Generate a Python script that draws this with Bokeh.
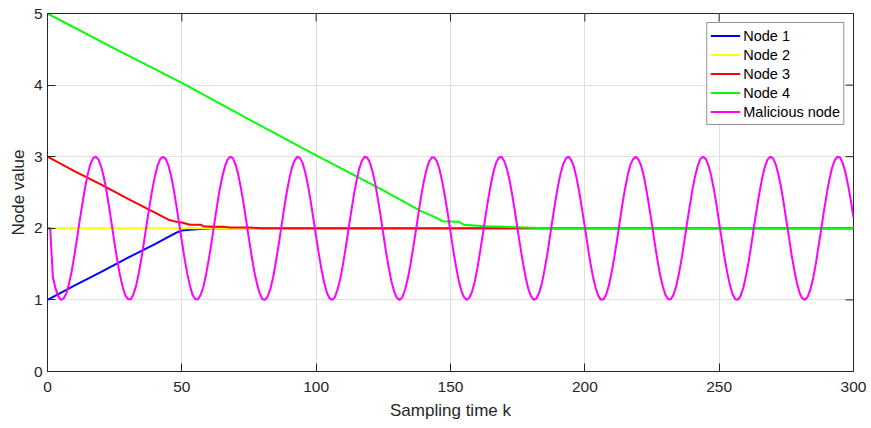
import math
from bokeh.plotting import figure
from bokeh.models import Range1d, FixedTicker, Legend, LegendItem
from bokeh.embed import file_html
from bokeh.resources import INLINE

# ---------------- data ----------------
x_ticks = [0, 50, 100, 150, 200, 250, 300]
y_ticks = [0, 1, 2, 3, 4, 5]

node1_k = [0, 10, 20, 30, 40, 45, 48, 50, 53, 57, 62, 300]
node1_v = [1.00, 1.20, 1.39, 1.59, 1.78, 1.88, 1.94, 1.97, 1.98, 1.99, 2.00, 2.00]

node2_k = [0, 300]
node2_v = [2.00, 2.00]

node3_k = [0, 10, 20, 30, 40, 45, 48, 50, 51, 53, 57, 58, 62, 66, 68, 75, 80, 300]
node3_v = [3.00, 2.80, 2.61, 2.41, 2.22, 2.12, 2.09, 2.08, 2.07, 2.05, 2.05, 2.03,
           2.02, 2.02, 2.01, 2.01, 2.00, 2.00]

node4_k = [0, 25, 50, 75, 100, 125, 139, 144, 147, 153, 155, 163, 170, 175, 185, 300]
node4_v = [5.00, 4.51, 4.03, 3.52, 3.02, 2.53, 2.24, 2.16, 2.10, 2.09, 2.05, 2.03,
           2.02, 2.015, 2.00, 2.00]

malicious_k = list(range(0, 301))
malicious_v = [
    2.00, 2.00,
    1.32, 1.16, 1.05, 1.00, 1.02, 1.09, 1.22, 1.40, 1.62, 1.86, 2.11, 2.35, 2.57, 2.76, 2.90, 2.98, 3.00, 2.96, 2.86, 2.71, 2.51, 2.28,
    2.03, 1.78, 1.55, 1.34, 1.18, 1.06, 1.01, 1.01, 1.08, 1.20, 1.38, 1.59, 1.83, 2.08, 2.32, 2.54, 2.73, 2.88, 2.97, 3.00, 2.97, 2.88, 2.73, 2.54, 2.31,
    2.07, 1.82, 1.58, 1.37, 1.20, 1.07, 1.01, 1.01, 1.07, 1.18, 1.35, 1.56, 1.79, 2.04, 2.29, 2.52, 2.71, 2.86, 2.96, 3.00, 2.98, 2.89, 2.75, 2.56, 2.34,
    2.10, 1.85, 1.61, 1.39, 1.22, 1.09, 1.01, 1.00, 1.05, 1.16, 1.32, 1.53, 1.76, 2.01, 2.26, 2.49, 2.69, 2.85, 2.95, 3.00, 2.98, 2.91, 2.77, 2.59, 2.37,
    2.13, 1.88, 1.64, 1.42, 1.24, 1.10, 1.02, 1.00, 1.04, 1.15, 1.30, 1.50, 1.73, 1.98, 2.22, 2.46, 2.66, 2.83, 2.94, 3.00, 2.99, 2.92, 2.79, 2.62, 2.40,
    2.17, 1.92, 1.67, 1.45, 1.26, 1.12, 1.03, 1.00, 1.03, 1.13, 1.28, 1.47, 1.70, 1.94, 2.19, 2.43, 2.64, 2.81, 2.93, 2.99, 2.99, 2.93, 2.81, 2.64, 2.43,
    2.20, 1.95, 1.70, 1.48, 1.28, 1.13, 1.04, 1.00, 1.03, 1.11, 1.25, 1.44, 1.67, 1.91, 2.16, 2.40, 2.61, 2.79, 2.92, 2.99, 3.00, 2.94, 2.83, 2.67, 2.46,
    2.23, 1.98, 1.74, 1.51, 1.31, 1.15, 1.05, 1.00, 1.02, 1.10, 1.23, 1.42, 1.63, 1.88, 2.13, 2.37, 2.59, 2.77, 2.90, 2.98, 3.00, 2.95, 2.85, 2.69, 2.49,
    2.26, 2.02, 1.77, 1.53, 1.33, 1.17, 1.06, 1.00, 1.01, 1.08, 1.21, 1.39, 1.60, 1.84, 2.09, 2.34, 2.56, 2.75, 2.89, 2.97, 3.00, 2.96, 2.87, 2.72, 2.52,
    2.29, 2.05, 1.80, 1.56, 1.35, 1.19, 1.07, 1.01, 1.01, 1.07, 1.19, 1.36, 1.57, 1.81, 2.06, 2.30, 2.53, 2.72, 2.87, 2.97, 3.00, 2.97, 2.88, 2.74, 2.55,
    2.33, 2.08, 1.83, 1.59, 1.38, 1.21, 1.08, 1.01, 1.00, 1.06, 1.17, 1.34, 1.54, 1.78, 2.03, 2.27, 2.50, 2.70, 2.86, 2.96, 3.00, 2.98, 2.90, 2.76, 2.58,
    2.36, 2.11, 1.87, 1.62, 1.41, 1.23, 1.09, 1.02, 1.00, 1.05, 1.15, 1.31, 1.51, 1.75, 1.99, 2.24, 2.47, 2.68, 2.84, 2.95, 3.00, 2.99, 2.91, 2.78, 2.60,
    2.39, 2.15,
]

series_names = ["Node 1", "Node 2", "Node 3", "Node 4", "Malicious node"]
series_colors = ["#0000ff", "#ffff00", "#ff0000", "#00ff00", "#ff00ff"]

# ---------------- figure ----------------
FONT = "Liberation Sans"
AX = "#262626"

p = figure(frame_width=806, frame_height=358,
           x_range=Range1d(0, 300), y_range=Range1d(0, 5),
           output_backend="svg", toolbar_location=None,
           min_border_left=47, min_border_top=13, min_border_right=18, min_border_bottom=50,
           background_fill_color="white", border_fill_color="white")
p.outline_line_color = AX
p.outline_line_width = 1

for ax in (p.xaxis[0], p.yaxis[0]):
    ax.major_tick_in = 8
    ax.major_tick_out = 0
    ax.minor_tick_in = 0
    ax.minor_tick_out = 0
    ax.axis_line_color = AX
    ax.major_tick_line_color = AX
    ax.major_label_text_font = FONT
    ax.major_label_text_font_size = "15.5px"
    ax.major_label_text_color = AX
    ax.axis_label_text_font = FONT
    ax.axis_label_text_font_size = "17px"
    ax.axis_label_text_font_style = "normal"
    ax.axis_label_text_color = AX

p.xaxis[0].ticker = FixedTicker(ticks=x_ticks)
p.yaxis[0].ticker = FixedTicker(ticks=y_ticks)
p.xaxis[0].axis_label = "Sampling time k"
p.yaxis[0].axis_label = "Node value"
p.xaxis[0].major_label_standoff = 10
p.xaxis[0].axis_label_standoff = 6
p.yaxis[0].major_label_standoff = 5
p.yaxis[0].axis_label_standoff = 3

p.xgrid.ticker = FixedTicker(ticks=x_ticks)
p.ygrid.ticker = FixedTicker(ticks=y_ticks)
p.grid.grid_line_color = "#dfdfdf"
p.grid.grid_line_width = 1

# tick marks on the top and right edges of the box (half of each dash is clipped by the frame)
p.scatter(x_ticks, [y_ticks[-1]] * len(x_ticks), marker="dash", size=16, angle=math.pi / 2,
          line_color=AX, line_width=1)
p.scatter([x_ticks[-1]] * len(y_ticks), y_ticks, marker="dash", size=16,
          line_color=AX, line_width=1)

all_k = [node1_k, node2_k, node3_k, node4_k, malicious_k]
all_v = [node1_v, node2_v, node3_v, node4_v, malicious_v]
items = []
for name, color, ks, vs in zip(series_names, series_colors, all_k, all_v):
    r = p.line(ks, vs, line_color=color, line_width=2)
    items.append(LegendItem(label=name, renderers=[r]))

legend = Legend(items=items, location="top_right", margin=9, padding=3, spacing=0,
                glyph_width=30, glyph_height=19, label_height=19, label_standoff=3,
                label_text_font=FONT, label_text_font_size="14.5px", label_text_color="black",
                border_line_color=AX, border_line_width=1, background_fill_color="white",
                background_fill_alpha=1)
p.add_layout(legend)

open("out.html", "w").write(file_html(p, INLINE))
